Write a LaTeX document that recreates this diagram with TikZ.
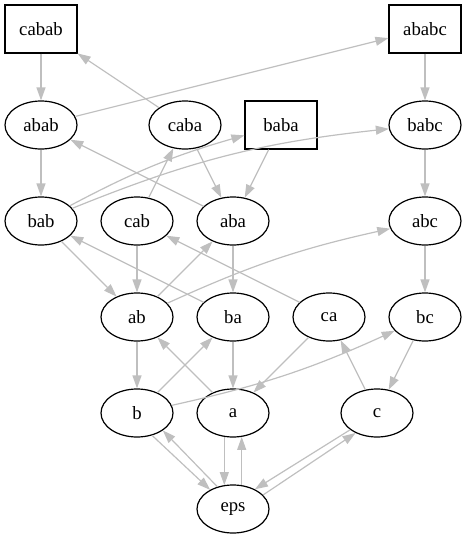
\documentclass[tikz,border=0pt]{standalone}
\usepackage{fontspec}
\setmainfont{Liberation Serif}
\usetikzlibrary{arrows.meta,shapes.geometric}
\begin{document}
\begin{tikzpicture}[x=1pt,y=-1pt,
    etat/.style={draw,ellipse,line width=1.2pt,minimum width=72pt,minimum height=48pt,inner sep=0pt,font=\fontsize{18.7}{22}\selectfont},
    final/.style={draw,rectangle,line width=1.2pt,minimum width=72pt,minimum height=48pt,inner sep=0pt,font=\fontsize{18.7}{22}\selectfont},
    fleche/.style={draw=gray!50,line width=1.2pt,-{Triangle[length=13pt,width=9pt]}}]
        \useasboundingbox (0,0) rectangle (467,539);
        \node[final] (cabab) at (41,29) {cabab};
        \node[final] (ababc) at (425,29) {ababc};
        \node[etat] (abab) at (41,125) {abab};
        \node[etat] (caba) at (185,125) {caba};
        \node[final] (baba) at (281,125) {baba};
        \node[etat] (babc) at (425,125) {babc};
        \node[etat] (bab) at (41,221) {bab};
        \node[etat] (cab) at (137,221) {cab};
        \node[etat] (aba) at (233,221) {aba};
        \node[etat] (abc) at (425,221) {abc};
        \node[etat] (ab) at (137,317) {ab};
        \node[etat] (ba) at (233,317) {ba};
        \node[etat] (ca) at (329,317) {ca};
        \node[etat] (bc) at (425,317) {bc};
        \node[etat] (b) at (137,413) {b};
        \node[etat] (a) at (233,413) {a};
        \node[etat] (c) at (377,413) {c};
        \node[etat] (eps) at (233,509) {eps};
        \draw[fleche] (cabab) -- (abab);
        \draw[fleche] (caba) -- (cabab);
        \draw[fleche] (abab) -- (ababc);
        \draw[fleche] (ababc) -- (babc);
        \draw[fleche] (babc) -- (abc);
        \draw[fleche] (abc) -- (bc);
        \draw[fleche] (bc) -- (c);
        \draw[fleche] (abab) -- (bab);
        \draw[fleche] (aba) -- (abab);
        \draw[fleche] (cab) -- (caba);
        \draw[fleche] (bab) to[bend left=6] (baba);
        \draw[fleche] (bab) to[bend left=8] (babc);
        \draw[fleche] (caba) -- (aba);
        \draw[fleche] (baba) -- (aba);
        \draw[fleche] (bab) -- (ab);
        \draw[fleche] (ba) -- (bab);
        \draw[fleche] (cab) -- (ab);
        \draw[fleche] (ab) -- (aba);
        \draw[fleche] (aba) -- (ba);
        \draw[fleche] (ca) -- (cab);
        \draw[fleche] (ab) to[bend left=6] (abc);
        \draw[fleche] (ab) -- (b);
        \draw[fleche] (b) -- (ba);
        \draw[fleche] (a) -- (ab);
        \draw[fleche] (ba) -- (a);
        \draw[fleche] (ca) -- (a);
        \draw[fleche] (b) to[bend right=6] (bc);
        \draw[fleche] (c) -- (ca);
        \draw[fleche] (b.-56) -- (eps.140);
        \draw[fleche] (eps.125) -- (b.-34);
        \draw[fleche] (a.-110) -- (eps.110);
        \draw[fleche] (eps.70) -- (a.-70);
        \draw[fleche] (c.-148) -- (eps.42);
        \draw[fleche] (eps.25) -- (c.-137);
\end{tikzpicture}
\end{document}
